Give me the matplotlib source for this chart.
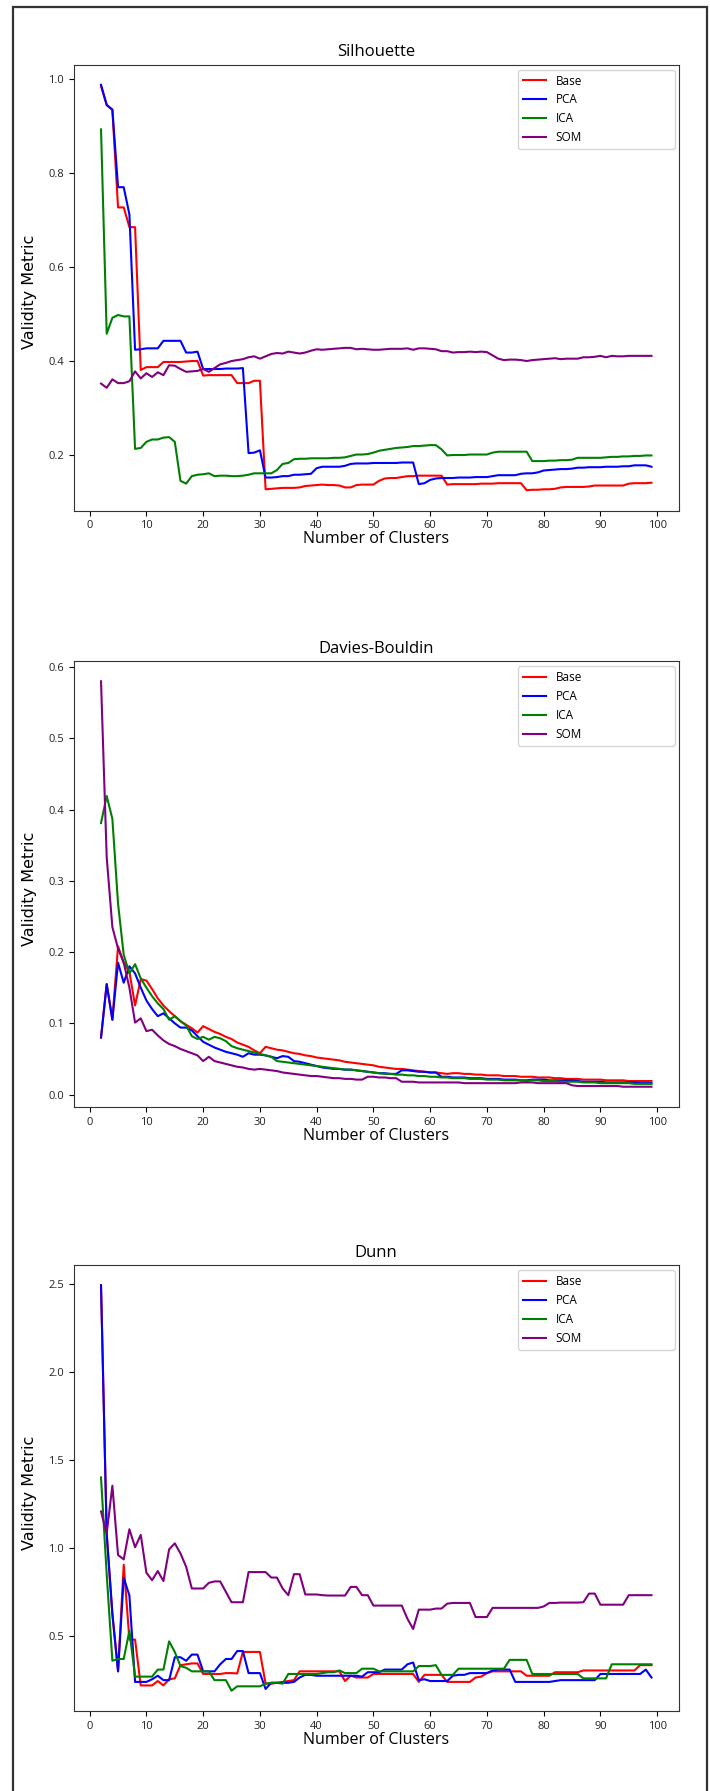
import numpy as np
import matplotlib
matplotlib.use("Agg")
import matplotlib.pyplot as plt
from matplotlib.patches import Rectangle

clusters = np.arange(2, 100)
methods = ["Base", "PCA", "ICA", "SOM"]
colors = ["red", "blue", "green", "purple"]

sil_base = [0.985, 0.945, 0.935, 0.727, 0.727, 0.685, 0.685, 0.381, 0.387,
            0.387, 0.387, 0.398, 0.398, 0.398, 0.398, 0.399, 0.400, 0.400, 0.369,
            0.370, 0.370, 0.370, 0.370, 0.370, 0.353, 0.353, 0.353, 0.358, 0.358,
            0.127, 0.128, 0.129, 0.130, 0.130, 0.130, 0.131, 0.134, 0.135, 0.136,
            0.137, 0.136, 0.136, 0.135, 0.131, 0.131, 0.136, 0.137, 0.137, 0.137,
            0.145, 0.150, 0.151, 0.151, 0.153, 0.155, 0.155, 0.156, 0.156, 0.156,
            0.156, 0.156, 0.137, 0.138, 0.138, 0.138, 0.138, 0.138, 0.139, 0.139,
            0.139, 0.140, 0.140, 0.140, 0.140, 0.140, 0.125, 0.126, 0.126, 0.127,
            0.127, 0.128, 0.131, 0.132, 0.132, 0.132, 0.132, 0.133, 0.135, 0.135,
            0.135, 0.135, 0.135, 0.135, 0.139, 0.140, 0.140, 0.140, 0.141]
sil_pca = [0.988, 0.945, 0.935, 0.770, 0.770, 0.712, 0.424, 0.425, 0.427,
           0.427, 0.427, 0.443, 0.443, 0.443, 0.443, 0.418, 0.418, 0.420, 0.383,
           0.383, 0.383, 0.383, 0.384, 0.384, 0.384, 0.385, 0.204, 0.205, 0.210,
           0.152, 0.152, 0.153, 0.155, 0.155, 0.158, 0.158, 0.159, 0.160, 0.172,
           0.175, 0.175, 0.175, 0.175, 0.177, 0.181, 0.182, 0.182, 0.182, 0.183,
           0.183, 0.183, 0.183, 0.183, 0.184, 0.184, 0.184, 0.138, 0.140, 0.147,
           0.150, 0.151, 0.151, 0.151, 0.152, 0.152, 0.152, 0.153, 0.153, 0.153,
           0.155, 0.157, 0.157, 0.157, 0.157, 0.160, 0.161, 0.161, 0.163, 0.167,
           0.168, 0.169, 0.170, 0.170, 0.171, 0.173, 0.173, 0.174, 0.174, 0.174,
           0.175, 0.175, 0.175, 0.176, 0.176, 0.178, 0.178, 0.178, 0.175]
sil_ica = [0.893, 0.458, 0.492, 0.498, 0.495, 0.495, 0.213, 0.215, 0.228,
           0.233, 0.233, 0.237, 0.238, 0.228, 0.145, 0.139, 0.155, 0.158, 0.159,
           0.161, 0.155, 0.156, 0.156, 0.155, 0.155, 0.156, 0.158, 0.161, 0.161,
           0.161, 0.161, 0.168, 0.181, 0.183, 0.191, 0.192, 0.192, 0.193, 0.193,
           0.193, 0.193, 0.194, 0.194, 0.195, 0.198, 0.201, 0.201, 0.202, 0.205,
           0.209, 0.211, 0.213, 0.215, 0.216, 0.217, 0.219, 0.219, 0.220, 0.221,
           0.221, 0.212, 0.199, 0.200, 0.200, 0.200, 0.201, 0.201, 0.201, 0.201,
           0.205, 0.207, 0.207, 0.207, 0.207, 0.207, 0.207, 0.187, 0.187, 0.187,
           0.188, 0.188, 0.189, 0.189, 0.190, 0.194, 0.194, 0.194, 0.194, 0.194,
           0.195, 0.196, 0.196, 0.197, 0.197, 0.198, 0.198, 0.199, 0.199]
sil_som = [0.352, 0.343, 0.361, 0.353, 0.353, 0.357, 0.378, 0.363, 0.374,
           0.366, 0.376, 0.370, 0.391, 0.390, 0.383, 0.377, 0.378, 0.379, 0.383,
           0.377, 0.385, 0.393, 0.396, 0.400, 0.402, 0.404, 0.408, 0.410, 0.405,
           0.410, 0.415, 0.417, 0.416, 0.420, 0.418, 0.416, 0.418, 0.422, 0.425,
           0.424, 0.425, 0.426, 0.427, 0.428, 0.428, 0.425, 0.426, 0.425, 0.424,
           0.424, 0.425, 0.426, 0.426, 0.426, 0.427, 0.424, 0.427, 0.427, 0.426,
           0.425, 0.421, 0.421, 0.418, 0.419, 0.419, 0.420, 0.419, 0.420, 0.419,
           0.412, 0.405, 0.402, 0.403, 0.403, 0.402, 0.400, 0.402, 0.403, 0.404,
           0.405, 0.406, 0.404, 0.405, 0.405, 0.405, 0.408, 0.408, 0.409, 0.411,
           0.408, 0.411, 0.410, 0.410, 0.411, 0.411, 0.411, 0.411, 0.411]

db_base = [0.080, 0.155, 0.105, 0.208, 0.185, 0.172, 0.125, 0.162, 0.160,
           0.148, 0.135, 0.125, 0.117, 0.110, 0.103, 0.098, 0.093, 0.087, 0.096,
           0.092, 0.088, 0.085, 0.081, 0.078, 0.073, 0.070, 0.067, 0.062, 0.058,
           0.067, 0.065, 0.063, 0.062, 0.060, 0.058, 0.057, 0.055, 0.054, 0.052,
           0.051, 0.050, 0.049, 0.048, 0.046, 0.045, 0.044, 0.043, 0.042, 0.041,
           0.039, 0.038, 0.037, 0.036, 0.036, 0.035, 0.034, 0.033, 0.032, 0.031,
           0.031, 0.030, 0.029, 0.030, 0.030, 0.029, 0.029, 0.028, 0.028, 0.027,
           0.027, 0.027, 0.026, 0.026, 0.026, 0.025, 0.025, 0.025, 0.024, 0.024,
           0.024, 0.023, 0.023, 0.022, 0.022, 0.022, 0.021, 0.021, 0.021, 0.021,
           0.020, 0.020, 0.020, 0.020, 0.019, 0.019, 0.019, 0.019, 0.019]
db_pca = [0.080, 0.155, 0.105, 0.185, 0.157, 0.180, 0.170, 0.150, 0.132,
          0.120, 0.110, 0.114, 0.107, 0.100, 0.094, 0.094, 0.090, 0.082, 0.074,
          0.070, 0.066, 0.063, 0.060, 0.058, 0.056, 0.053, 0.058, 0.056, 0.056,
          0.055, 0.053, 0.051, 0.054, 0.053, 0.047, 0.046, 0.044, 0.042, 0.040,
          0.038, 0.037, 0.036, 0.036, 0.035, 0.035, 0.034, 0.033, 0.032, 0.031,
          0.030, 0.030, 0.029, 0.029, 0.034, 0.034, 0.033, 0.032, 0.032, 0.031,
          0.031, 0.025, 0.025, 0.024, 0.024, 0.024, 0.023, 0.023, 0.023, 0.022,
          0.022, 0.022, 0.021, 0.021, 0.021, 0.020, 0.020, 0.021, 0.021, 0.021,
          0.020, 0.020, 0.020, 0.020, 0.020, 0.019, 0.018, 0.018, 0.018, 0.018,
          0.017, 0.017, 0.017, 0.017, 0.017, 0.017, 0.016, 0.016, 0.016]
db_ica = [0.381, 0.419, 0.387, 0.268, 0.196, 0.170, 0.183, 0.163, 0.150,
          0.138, 0.128, 0.120, 0.105, 0.110, 0.103, 0.097, 0.082, 0.078, 0.081,
          0.077, 0.081, 0.079, 0.075, 0.068, 0.065, 0.063, 0.061, 0.059, 0.057,
          0.055, 0.053, 0.047, 0.046, 0.045, 0.044, 0.043, 0.042, 0.041, 0.040,
          0.039, 0.038, 0.037, 0.036, 0.035, 0.035, 0.034, 0.033, 0.032, 0.031,
          0.030, 0.029, 0.029, 0.028, 0.028, 0.027, 0.027, 0.026, 0.026, 0.025,
          0.025, 0.024, 0.024, 0.023, 0.023, 0.023, 0.022, 0.022, 0.022, 0.021,
          0.021, 0.021, 0.020, 0.020, 0.020, 0.020, 0.019, 0.020, 0.020, 0.019,
          0.019, 0.019, 0.018, 0.018, 0.018, 0.018, 0.017, 0.017, 0.017, 0.016,
          0.016, 0.016, 0.016, 0.016, 0.016, 0.015, 0.015, 0.015, 0.015]
db_som = [0.580, 0.333, 0.235, 0.205, 0.185, 0.150, 0.101, 0.107, 0.089,
          0.091, 0.083, 0.076, 0.071, 0.068, 0.064, 0.061, 0.058, 0.055, 0.047,
          0.053, 0.047, 0.045, 0.043, 0.041, 0.039, 0.038, 0.036, 0.035, 0.036,
          0.035, 0.034, 0.033, 0.031, 0.030, 0.029, 0.028, 0.027, 0.026, 0.026,
          0.025, 0.024, 0.023, 0.023, 0.022, 0.022, 0.021, 0.021, 0.025, 0.025,
          0.024, 0.024, 0.023, 0.023, 0.018, 0.018, 0.018, 0.017, 0.017, 0.017,
          0.017, 0.017, 0.017, 0.017, 0.017, 0.016, 0.016, 0.016, 0.016, 0.016,
          0.016, 0.016, 0.016, 0.016, 0.016, 0.017, 0.017, 0.017, 0.016, 0.016,
          0.016, 0.016, 0.016, 0.016, 0.013, 0.012, 0.012, 0.012, 0.012, 0.012,
          0.012, 0.012, 0.012, 0.011, 0.011, 0.011, 0.011, 0.011, 0.011]

dunn_base = [2.49, 1.08, 0.62, 0.30, 0.905, 0.48, 0.48, 0.22, 0.22,
             0.22, 0.245, 0.22, 0.255, 0.26, 0.335, 0.34, 0.345, 0.345, 0.285,
             0.285, 0.285, 0.285, 0.29, 0.29, 0.288, 0.41, 0.41, 0.41, 0.41,
             0.23, 0.23, 0.235, 0.24, 0.245, 0.25, 0.30, 0.30, 0.30, 0.30,
             0.30, 0.30, 0.30, 0.30, 0.245, 0.275, 0.265, 0.265, 0.265, 0.285,
             0.285, 0.285, 0.285, 0.285, 0.285, 0.285, 0.285, 0.24, 0.28, 0.28,
             0.28, 0.28, 0.24, 0.24, 0.24, 0.24, 0.24, 0.265, 0.27, 0.29,
             0.30, 0.30, 0.30, 0.30, 0.30, 0.30, 0.275, 0.275, 0.275, 0.275,
             0.275, 0.295, 0.295, 0.295, 0.295, 0.295, 0.305, 0.305, 0.305, 0.305,
             0.305, 0.305, 0.305, 0.305, 0.305, 0.305, 0.335, 0.335, 0.335]
dunn_pca = [2.49, 1.08, 0.63, 0.30, 0.83, 0.73, 0.24, 0.24, 0.24,
            0.255, 0.275, 0.25, 0.25, 0.38, 0.38, 0.36, 0.395, 0.395, 0.30,
            0.30, 0.30, 0.34, 0.37, 0.37, 0.415, 0.415, 0.29, 0.29, 0.29,
            0.20, 0.235, 0.235, 0.235, 0.235, 0.24, 0.265, 0.28, 0.28, 0.275,
            0.275, 0.275, 0.275, 0.275, 0.275, 0.275, 0.275, 0.27, 0.295, 0.295,
            0.295, 0.31, 0.31, 0.31, 0.31, 0.34, 0.35, 0.25, 0.255, 0.245,
            0.245, 0.245, 0.245, 0.275, 0.28, 0.28, 0.29, 0.29, 0.29, 0.29,
            0.305, 0.31, 0.31, 0.31, 0.24, 0.24, 0.24, 0.24, 0.24, 0.24,
            0.24, 0.245, 0.25, 0.25, 0.25, 0.25, 0.25, 0.25, 0.25, 0.285,
            0.285, 0.285, 0.285, 0.285, 0.285, 0.285, 0.285, 0.31, 0.265]
dunn_ica = [1.40, 0.85, 0.36, 0.37, 0.37, 0.53, 0.27, 0.27, 0.27,
            0.27, 0.31, 0.31, 0.47, 0.41, 0.33, 0.32, 0.30, 0.30, 0.30,
            0.30, 0.25, 0.25, 0.25, 0.19, 0.215, 0.215, 0.215, 0.215, 0.215,
            0.23, 0.235, 0.235, 0.23, 0.285, 0.285, 0.285, 0.285, 0.285, 0.285,
            0.29, 0.295, 0.295, 0.305, 0.29, 0.29, 0.29, 0.315, 0.315, 0.315,
            0.30, 0.30, 0.30, 0.30, 0.30, 0.30, 0.30, 0.33, 0.33, 0.33,
            0.335, 0.28, 0.28, 0.28, 0.315, 0.315, 0.315, 0.315, 0.315, 0.315,
            0.315, 0.315, 0.315, 0.365, 0.365, 0.365, 0.365, 0.285, 0.285, 0.285,
            0.285, 0.285, 0.285, 0.285, 0.285, 0.285, 0.26, 0.26, 0.26, 0.26,
            0.26, 0.34, 0.34, 0.34, 0.34, 0.34, 0.34, 0.34, 0.34]
dunn_som = [1.207, 1.083, 1.353, 0.960, 0.935, 1.106, 1.004, 1.074, 0.859,
            0.817, 0.869, 0.812, 0.992, 1.026, 0.969, 0.893, 0.770, 0.770, 0.770,
            0.802, 0.810, 0.810, 0.751, 0.692, 0.692, 0.692, 0.863, 0.863, 0.863,
            0.863, 0.832, 0.832, 0.770, 0.732, 0.851, 0.851, 0.736, 0.736, 0.736,
            0.732, 0.730, 0.730, 0.730, 0.730, 0.779, 0.779, 0.732, 0.732, 0.673,
            0.673, 0.673, 0.673, 0.673, 0.673, 0.598, 0.540, 0.650, 0.650, 0.650,
            0.656, 0.656, 0.684, 0.688, 0.688, 0.688, 0.688, 0.608, 0.608, 0.608,
            0.660, 0.660, 0.660, 0.660, 0.660, 0.660, 0.660, 0.660, 0.660, 0.668,
            0.688, 0.688, 0.690, 0.690, 0.690, 0.690, 0.692, 0.741, 0.741, 0.678,
            0.678, 0.678, 0.678, 0.678, 0.732, 0.732, 0.732, 0.732, 0.732]

panels = [
    ("Silhouette", [sil_base, sil_pca, sil_ica, sil_som]),
    ("Davies-Bouldin", [db_base, db_pca, db_ica, db_som]),
    ("Dunn", [dunn_base, dunn_pca, dunn_ica, dunn_som]),
]

W, H = 710, 1791
fig = plt.figure(figsize=(W / 100, H / 100), dpi=100)

# page frame (top, left, right; bottom edge runs off the page)
fig.patches.append(Rectangle((13 / W, -0.05), (707 - 13) / W, 1 - 7 / H + 0.05,
                             transform=fig.transFigure, fill=False,
                             lw=1.6, ec="#333333"))

ax_left, ax_right = 73.5, 679
tops = [64.5, 661, 1265]
ax_h = 446

txt_font = ["Open Sans", "DejaVu Sans"]

for (title, series), top in zip(panels, tops):
    ax = fig.add_axes([ax_left / W, 1 - (top + ax_h) / H,
                       (ax_right - ax_left) / W, ax_h / H])
    for vals, name, c in zip(series, methods, colors):
        ax.plot(clusters, vals, color=c, lw=1.5, label=name)
    ax.set_xticks(range(0, 101, 10))
    ax.set_title(title, fontsize=12, family=txt_font, pad=6)
    ax.set_xlabel("Number of Clusters", fontsize=11.5, family=txt_font)
    ax.set_ylabel("Validity Metric", fontsize=11.5, family="DejaVu Sans")
    ax.xaxis.set_label_coords(0.5, -0.064)
    ax.yaxis.set_label_coords(-0.072, 0.49)
    ax.xaxis.label.set_va("center")
    ax.yaxis.label.set_va("center")
    for lab in ax.get_xticklabels() + ax.get_yticklabels():
        lab.set_family(txt_font)
        lab.set_fontsize(8)
        lab.set_color("#222222")
    for sp in ax.spines.values():
        sp.set_color("#333333")
    ax.legend(loc="upper right", bbox_to_anchor=(0.734, 0.0, 0.259, 0.988),
              mode="expand", borderaxespad=0,
              prop={"family": txt_font, "size": 8.5})

fig.savefig("out.png", dpi=100)
